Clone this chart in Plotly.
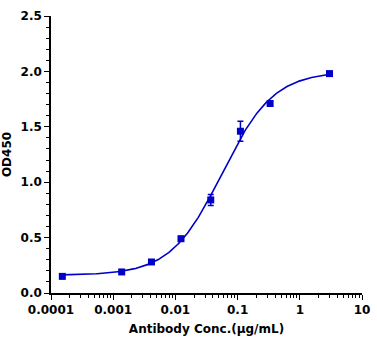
import numpy as np
import plotly.graph_objects as go

# Antibody titration (ELISA), mean OD450 with SD
conc_ug_ml = [0.000152, 0.00137, 0.00412, 0.0123, 0.037, 0.111, 0.333, 3.0]
od450_mean = [0.15, 0.19, 0.28, 0.49, 0.84, 1.46, 1.71, 1.98]
od450_sd = [0.015, 0.015, 0.015, 0.02, 0.05, 0.09, 0.02, 0.02]

x_ticks = [1e-4, 1e-3, 1e-2, 1e-1, 1, 10]
x_tick_text = ["0.0001", "0.001", "0.01", "0.1", "1", "10"]
y_ticks = [0.0, 0.5, 1.0, 1.5, 2.0, 2.5]

BLUE = "#0000c8"
FONT = "DejaVu Sans"


def four_pl(x, bottom, top, ec50, hill):
    return bottom + (top - bottom) / (1.0 + (ec50 / x) ** hill)


# Least-squares 4PL fit by grid search
lx = np.array(conc_ug_ml)
ly = np.array(od450_mean)
ranges = [
    np.linspace(0.05, 0.25, 21),
    np.linspace(1.8, 2.3, 26),
    np.linspace(-2.0, -0.6, 57),
    np.linspace(0.6, 1.8, 49),
]
B, T, E, H = np.meshgrid(*ranges, indexing="ij")
pred = B[..., None] + (T - B)[..., None] / (1.0 + (10 ** E[..., None] / lx) ** H[..., None])
sse = ((pred - ly) ** 2).sum(axis=-1)
i = np.unravel_index(np.argmin(sse), sse.shape)
bottom, top, ec50, hill = B[i], T[i], 10 ** E[i], H[i]

x_fit = np.logspace(np.log10(conc_ug_ml[0]), np.log10(conc_ug_ml[-1]), 300)
y_fit = four_pl(x_fit, bottom, top, ec50, hill)

fig = go.Figure()
fig.add_trace(go.Scatter(
    x=x_fit, y=y_fit, mode="lines",
    line=dict(color=BLUE, width=1.6), hoverinfo="skip", showlegend=False,
))
fig.add_trace(go.Scatter(
    x=conc_ug_ml, y=od450_mean, mode="markers",
    marker=dict(symbol="square", size=7, color=BLUE),
    error_y=dict(type="data", array=od450_sd, color=BLUE, thickness=1.5, width=3),
    showlegend=False,
))

axis_common = dict(
    showline=True, linecolor="black", linewidth=1.6,
    ticks="outside", ticklen=5, tickwidth=1.4, tickcolor="black",
    showgrid=False, zeroline=False, mirror=False, automargin=False,
    tickfont=dict(family=FONT, size=12, color="black", weight="bold"),
)

fig.update_layout(
    width=377, height=349,
    margin=dict(l=51, r=15, t=16, b=56),
    paper_bgcolor="white", plot_bgcolor="white",
    xaxis=dict(
        type="log", range=[-4, 1],
        tickvals=x_ticks, ticktext=x_tick_text,
        minor=dict(ticks="outside", ticklen=3, tickwidth=1.2, tickcolor="black", dtick="D1"),
        title=dict(text="Antibody Conc.(μg/mL)", standoff=8,
                   font=dict(family=FONT, size=12, color="black", weight="bold")),
        **axis_common,
    ),
    yaxis=dict(
        range=[0, 2.5], tickvals=y_ticks, tickformat=".1f",
        minor=dict(ticks="outside", ticklen=3, tickwidth=1.2, tickcolor="black", dtick=0.1),
        title=dict(text="OD450", standoff=8,
                   font=dict(family=FONT, size=12, color="black", weight="bold")),
        **axis_common,
    ),
)

fig.write_html("out.html")
